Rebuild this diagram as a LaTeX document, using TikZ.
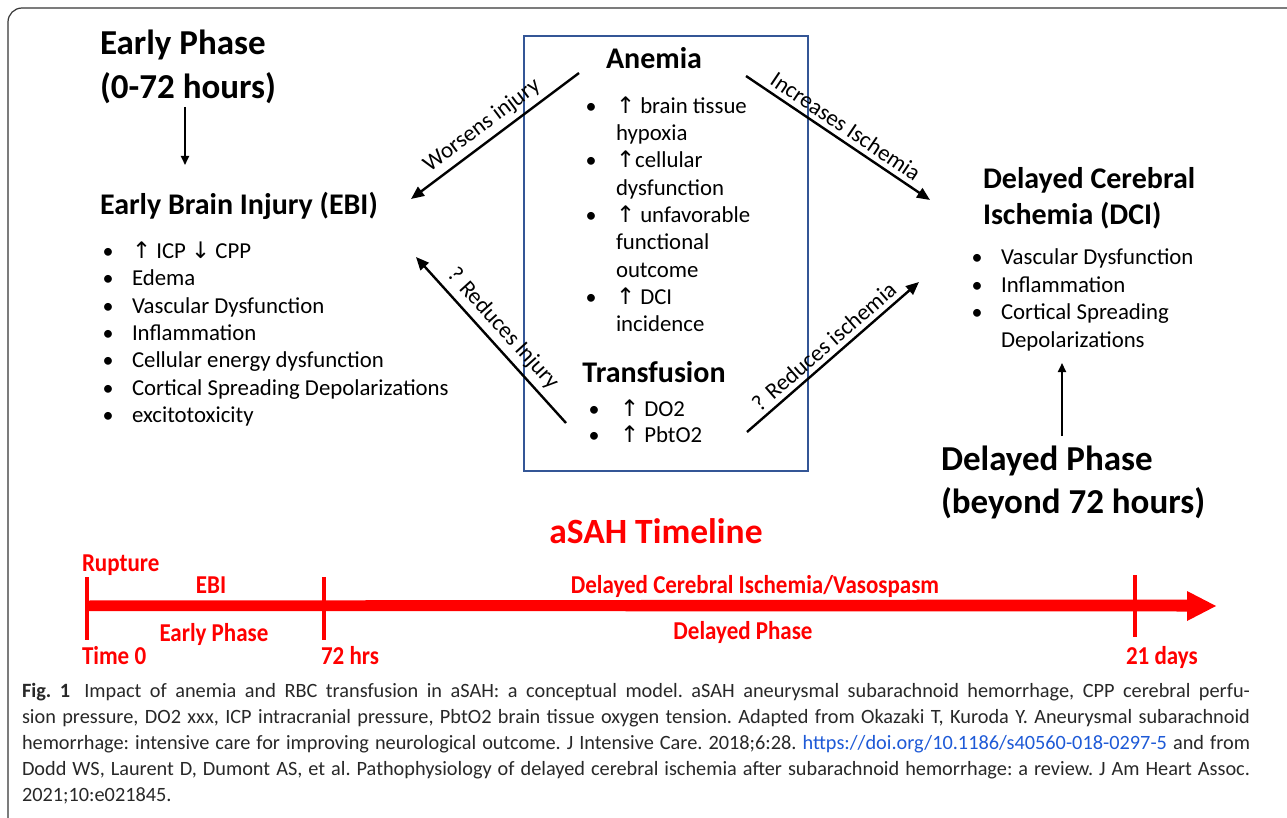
\documentclass[tikz,border=0pt]{standalone}
\usepackage{fontspec}
\setmainfont{Carlito}
\newfontfamily\symfont{DejaVu Sans}
\usetikzlibrary{arrows.meta}
\definecolor{boxblue}{RGB}{52,86,150}
\definecolor{linkblue}{RGB}{30,90,215}
\definecolor{framegray}{RGB}{55,55,55}
\definecolor{capgray}{RGB}{40,40,40}
\newcommand{\uarr}{{\symfont ↑}}
\newcommand{\darr}{{\symfont ↓}}
\newcommand{\tallbox}[1]{\scalebox{1}[1.12]{#1}}
\tikzset{
  every node/.style={inner sep=0pt, outer sep=0pt},
  phase/.style={anchor=base west, font=\fontsize{35}{44}\selectfont\bfseries},
  head/.style={anchor=base west, font=\fontsize{30}{36}\selectfont\bfseries},
  headc/.style={anchor=base, font=\fontsize{30}{36}\selectfont\bfseries},
  item/.style={anchor=base west, font=\fontsize{22.8}{27}\selectfont},
  dot/.style={anchor=base, font=\fontsize{22}{27}\selectfont},
  link/.style={line width=2.4pt, -{Triangle[length=13pt,width=11pt]}},
  thinarrow/.style={line width=1.8pt, -{Triangle[length=9pt,width=8pt]}},
  lbl/.style={sloped, above=6pt, font=\fontsize{23}{26}\selectfont},
  tl/.style={text=red, font=\fontsize{23}{26}\selectfont\bfseries},
  tick/.style={red, line width=4pt},
}
\begin{document}
\begin{tikzpicture}[x=1pt,y=-1pt]
\useasboundingbox (0,0) rectangle (1287,818);
\fill[white] (0,0) rectangle (1287,818);

% outer frame (top and left edges)
\draw[framegray, line width=1.2pt, rounded corners=14pt] (1300,8) -- (8,8) -- (8,830);

% ---------- early phase ----------
\node[phase] (ep1) at (100,55) {Early Phase};
\node[phase] (ep2) at (100,99) {(0-72 hours)};
\coordinate (epA) at (185,107);
\coordinate (epB) at (185,165);
\draw[thinarrow] (epA) -- (epB);

\node[head] (ebi) at (100,215) {Early Brain Injury (EBI)};
\foreach [count=\i] \t in {{\uarr\ ICP \darr\ CPP},{Edema},{Vascular Dysfunction},{Inflammation},{Cellular energy dysfunction},{Cortical Spreading Depolarizations},{excitotoxicity}}{
  \node[dot] (ebd\i) at (108,{258.7+27.3*(\i-1)}) {•};
  \node[item] (ebt\i) at (132,{258.7+27.3*(\i-1)}) {\t};
}

% ---------- central box ----------
\node[draw=boxblue, line width=1.3pt, minimum width=284pt, minimum height=435pt, anchor=north west] (box) at (524,36) {};
\node[headc] (anemia) at (654,68.5) {Anemia};
% flag 1 = first line of a bullet, 0 = continuation line
\foreach [count=\i] \f/\t in {1/{\uarr\ brain tissue},0/{hypoxia},1/{\uarr cellular},0/{dysfunction},1/{\uarr\ unfavorable},0/{functional},0/{outcome},1/{\uarr\ DCI},0/{incidence}}{
  \ifnum\f=1 \node[dot] (and\i) at (591,{113.3+27.3*(\i-1)}) {•};\fi
  \node[item] (ant\i) at (616,{113.3+27.3*(\i-1)}) {\t};
}
\node[headc] (transf) at (654,382) {Transfusion};
\node[dot] (trd1) at (594,416.7) {•};
\node[item] (trt1) at (620,416.7) {\uarr\ DO2};
\node[dot] (trd2) at (594,442.7) {•};
\node[item] (trt2) at (620,442.7) {\uarr\ PbtO2};

% ---------- delayed cerebral ischemia ----------
\node[head] (dci1) at (983,188.5) {Delayed Cerebral};
\node[head] (dci2) at (983,225) {Ischemia (DCI)};
\foreach [count=\i] \t in {{Vascular Dysfunction},{Inflammation},{Cortical Spreading}}{
  \node[dot] (dcd\i) at (977,{265+27.4*(\i-1)}) {•};
  \node[item] (dct\i) at (1001,{265+27.4*(\i-1)}) {\t};
}
\node[item] (dct4) at (1001,347.2) {Depolarizations};
\coordinate (dpA) at (1062,436);
\coordinate (dpB) at (1062,363);
\draw[thinarrow] (dpA) -- (dpB);
\node[phase] (dp1) at (941,470) {Delayed Phase};
\node[phase] (dp2) at (941,513) {(beyond 72 hours)};

% ---------- effect arrows ----------
\coordinate (wA) at (579,73);
\coordinate (wB) at (411,199);
\coordinate (iA) at (746,76);
\coordinate (iB) at (930,200);
\coordinate (rA) at (566,423);
\coordinate (rB) at (416,257);
\coordinate (sA) at (747,432);
\coordinate (sB) at (919,282);
\draw[link] (wA) -- node[lbl, pos=0.52] (wl) {Worsens injury} (wB);
\draw[link] (iA) -- node[lbl, pos=0.5] (il) {Increases Ischemia} (iB);
\draw[link] (rA) -- node[lbl, pos=0.5] (rl) {? Reduces Injury} (rB);
\draw[link] (sA) -- node[lbl, pos=0.5] (sl) {? Reduces ischemia} (sB);

% ---------- timeline ----------
\node[anchor=base, text=red, font=\fontsize{35.5}{40}\selectfont\bfseries] (tltitle) at (656,543) {aSAH Timeline};
\fill[red] (85,600.5) -- (1187,599.5) -- (1187,591) -- (1216,606) -- (1187,621) -- (1187,611.5) -- (85,611) -- cycle;
\coordinate (t0a) at (87,577);   \coordinate (t0b) at (87,640);
\coordinate (t1a) at (324,577);  \coordinate (t1b) at (324,640);
\coordinate (t2a) at (1135,575); \coordinate (t2b) at (1135,637);
\draw[tick] (t0a) -- (t0b);
\draw[tick] (t1a) -- (t1b);
\draw[tick] (t2a) -- (t2b);
\node[tl, anchor=base west] (rup) at (82,571) {\tallbox{Rupture}};
\node[tl, anchor=base] (tebi) at (211,593) {\tallbox{EBI}};
\node[tl, anchor=base] (tep) at (214,641) {\tallbox{Early Phase}};
\node[tl, anchor=base west] (tz) at (82,664) {\tallbox{Time 0}};
\node[tl, anchor=base west] (t72) at (321,664) {\tallbox{72 hrs}};
\node[tl, anchor=base] (tdci) at (755,593) {\tallbox{Delayed Cerebral Ischemia/Vasospasm}};
\node[tl, anchor=base] (tdp) at (743,639) {\tallbox{Delayed Phase}};
\node[tl, anchor=base west] (t21) at (1126,664) {\tallbox{21 days}};

% ---------- caption ----------
\node[anchor=north west, text width=1228pt, align=justify, text=capgray,
      font=\fontsize{20.3}{26}\selectfont] (cap) at (22,683)
{\frenchspacing\tolerance=10000\hyphenpenalty=10000\textbf{Fig.~1}\hspace{0.7em}Impact of anemia and RBC transfusion in aSAH: a conceptual model. aSAH aneurysmal subarachnoid hemorrhage, CPP cerebral perfu-\linebreak sion pressure, DO2 xxx, ICP intracranial pressure, PbtO2 brain tissue oxygen tension. Adapted from Okazaki T, Kuroda Y. Aneurysmal subarachnoid\linebreak hemorrhage: intensive care for improving neurological outcome. J Intensive Care. 2018;6:28. \textcolor{linkblue}{https://doi.org/10.1186/s40560-018-0297-5} and from\linebreak Dodd WS, Laurent D, Dumont AS, et al. Pathophysiology of delayed cerebral ischemia after subarachnoid hemorrhage: a review. J Am Heart Assoc.\linebreak 2021;10:e021845.\par};
\end{tikzpicture}
\end{document}
